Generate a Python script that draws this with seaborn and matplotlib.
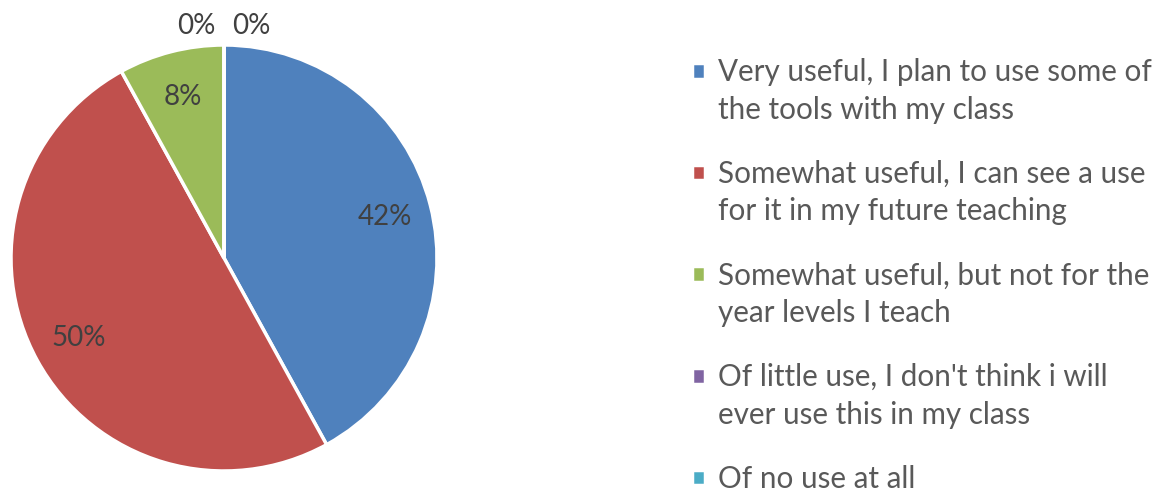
import matplotlib
matplotlib.use("Agg")
import matplotlib.pyplot as plt
import seaborn as sns
import numpy as np
from matplotlib.patches import Rectangle
from matplotlib.legend_handler import HandlerPatch

categories = [
    "Very useful, I plan to use some of\nthe tools with my class",
    "Somewhat useful, I can see a use\nfor it in my future teaching",
    "Somewhat useful, but not for the\nyear levels I teach",
    "Of little use, I don't think i will\never use this in my class",
    "Of no use at all",
]
shares = [42, 50, 8, 0, 0]
pct_labels = ["42%", "50%", "8%", "0%", "0%"]
colors = ["#4F81BD", "#C0504D", "#9BBB59", "#8064A2", "#4BACC6"]

sns.set_theme(style="white")
plt.rcParams["font.family"] = ["Lato", "DejaVu Sans"]

fig = plt.figure(figsize=(11.62, 4.91), dpi=100)
ax = fig.add_axes([11 / 1162, 20 / 491, 426 / 1162, 426 / 491])
palette = sns.color_palette(colors)

wedges, texts = ax.pie(
    shares,
    colors=palette,
    startangle=90,
    counterclock=False,
    wedgeprops=dict(edgecolor="white", linewidth=2.5),
    radius=1.0,
)
ax.set_xlim(-1.0, 1.0)
ax.set_ylim(-1.0, 1.0)
ax.set_aspect("equal")
ax.axis("off")

zero_offsets = iter([-0.13, 0.13])
for w, lab, val in zip(wedges, pct_labels, shares):
    if val > 0:
        ang = np.deg2rad((w.theta1 + w.theta2) / 2)
        r = 0.78
        x, y = r * np.cos(ang), r * np.sin(ang)
    else:
        x, y = next(zero_offsets), 1.09
    ax.text(x, y, lab, ha="center", va="center", fontsize=20, color="#404040",
            clip_on=False)

FS = 21.3
LS = 1.42


def make_handler(nlines):
    shift = (nlines - 1) * LS * FS / 2.0

    def patch_func(legend, orig_handle, xdescent, ydescent, width, height, fontsize):
        return Rectangle((-xdescent, -ydescent + shift), width, height)

    return HandlerPatch(patch_func=patch_func)


handler_map = {w: make_handler(c.count("\n") + 1) for w, c in zip(wedges, categories)}

leg = fig.legend(
    wedges, categories,
    loc="upper left", bbox_to_anchor=(692 / 1162, 1 - 58 / 491),
    frameon=False, fontsize=FS, handlelength=0.45, handleheight=0.45,
    handletextpad=0.42, labelspacing=1.22, labelcolor="#595959",
    borderaxespad=0, borderpad=0, handler_map=handler_map,
)
for t in leg.get_texts():
    t.set_linespacing(LS)

fig.savefig("out.png", dpi=100, facecolor="white")
